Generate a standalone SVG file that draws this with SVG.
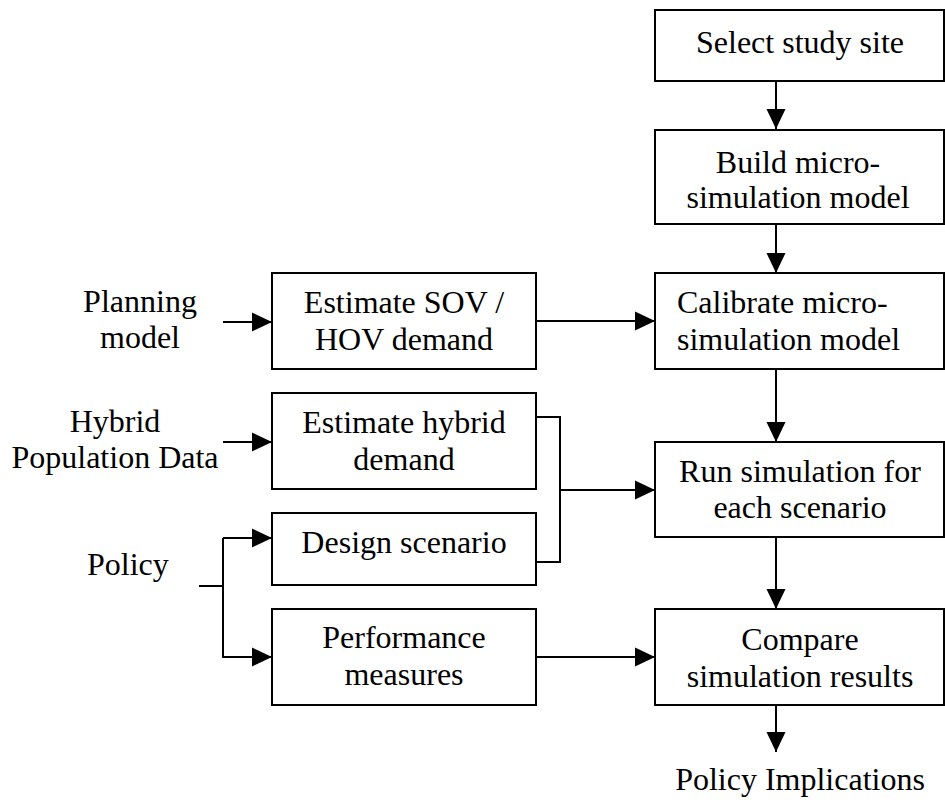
<svg xmlns="http://www.w3.org/2000/svg" width="945" height="802" viewBox="0 0 945 802">
<style>
  .box { fill: #fff; stroke: #000; stroke-width: 2; }
  .t { font-family: "Liberation Serif", "Times New Roman", serif; font-size: 32px; fill: #000; }
  .c { text-anchor: middle; }
  .ln { fill: none; stroke: #000; stroke-width: 2; }
</style>
<defs>
  <marker id="ah" markerUnits="userSpaceOnUse" markerWidth="20" markerHeight="20" refX="20" refY="10" orient="auto" viewBox="0 0 20 20">
    <path d="M0,0.5 L20,10 L0,19.5 z" fill="#000"/>
  </marker>
</defs>
<rect width="945" height="802" fill="#fff"/>
<g id="connectors">
  <line class="ln" x1="776" y1="81" x2="776" y2="129" marker-end="url(#ah)"/>
  <line class="ln" x1="776" y1="224" x2="776" y2="273" marker-end="url(#ah)"/>
  <line class="ln" x1="776" y1="369" x2="776" y2="442" marker-end="url(#ah)"/>
  <line class="ln" x1="776" y1="537" x2="776" y2="609" marker-end="url(#ah)"/>
  <line class="ln" x1="776" y1="705" x2="776" y2="752" marker-end="url(#ah)"/>
  <line class="ln" x1="536" y1="321" x2="655" y2="321" marker-end="url(#ah)"/>
  <line class="ln" x1="223" y1="322" x2="272" y2="322" marker-end="url(#ah)"/>
  <line class="ln" x1="223" y1="442" x2="272" y2="442" marker-end="url(#ah)"/>
  <polyline class="ln" points="536,417 560,417 560,562 536,562"/>
  <line class="ln" x1="560" y1="490" x2="655" y2="490" marker-end="url(#ah)"/>
  <line class="ln" x1="199" y1="586" x2="223" y2="586"/>
  <line class="ln" x1="223" y1="538" x2="272" y2="538" marker-end="url(#ah)"/>
  <polyline class="ln" points="223,538 223,657 272,657" marker-end="url(#ah)"/>
  <line class="ln" x1="536" y1="657" x2="655" y2="657" marker-end="url(#ah)"/>
</g>
<g id="select">
  <rect class="box" x="655" y="10" width="289" height="71"/>
  <text class="t c" x="800" y="53">Select study site</text>
</g>
<g id="build">
  <rect class="box" x="655" y="130" width="289" height="94"/>
  <text class="t c" x="798" y="173">Build micro-</text>
  <text class="t c" x="798" y="208">simulation model</text>
</g>
<g id="calibrate">
  <rect class="box" x="655" y="273" width="289" height="96"/>
  <text class="t" x="677" y="313">Calibrate micro-</text>
  <text class="t" x="677" y="350">simulation model</text>
</g>
<g id="run">
  <rect class="box" x="655" y="442" width="289" height="95"/>
  <text class="t c" x="800" y="482">Run simulation for</text>
  <text class="t c" x="800" y="518">each scenario</text>
</g>
<g id="compare">
  <rect class="box" x="655" y="609" width="289" height="96"/>
  <text class="t c" x="800" y="650">Compare</text>
  <text class="t c" x="800" y="687">simulation results</text>
</g>
<g id="implications">
  <text class="t c" x="800" y="790">Policy Implications</text>
</g>
<g id="sov">
  <rect class="box" x="272" y="273" width="264" height="96"/>
  <text class="t c" x="404" y="313">Estimate SOV /</text>
  <text class="t c" x="404" y="350">HOV demand</text>
</g>
<g id="hybrid">
  <rect class="box" x="272" y="393" width="264" height="96"/>
  <text class="t c" x="404" y="433">Estimate hybrid</text>
  <text class="t c" x="404" y="470">demand</text>
</g>
<g id="design">
  <rect class="box" x="272" y="513" width="264" height="72"/>
  <text class="t c" x="404" y="553">Design scenario</text>
</g>
<g id="performance">
  <rect class="box" x="272" y="609" width="264" height="96"/>
  <text class="t c" x="404" y="648">Performance</text>
  <text class="t c" x="404" y="685">measures</text>
</g>
<g id="planning">
  <text class="t c" x="140" y="312">Planning</text>
  <text class="t c" x="140" y="348">model</text>
</g>
<g id="hybriddata">
  <text class="t c" x="115" y="432">Hybrid</text>
  <text class="t c" x="115" y="468">Population Data</text>
</g>
<g id="policy">
  <text class="t" x="87" y="575">Policy</text>
</g>
</svg>
